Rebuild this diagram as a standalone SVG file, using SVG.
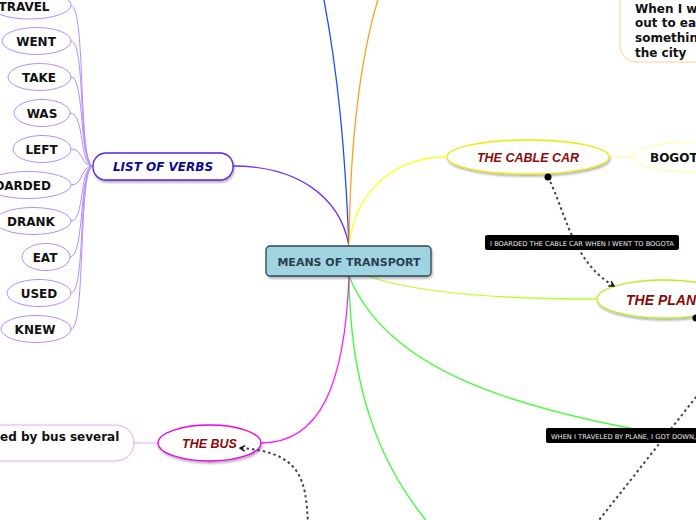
<svg xmlns="http://www.w3.org/2000/svg" width="696" height="520" viewBox="0 0 696 520">
<style>
.verb{fill:#fff;stroke:#b58cff;stroke-width:1}
.vt{font-family:"DejaVu Sans",Verdana,sans-serif;font-weight:bold;font-size:12px;fill:#111;text-anchor:middle}
.vc{fill:none;stroke:#b58cff;stroke-width:1}
.main{fill:none;stroke-width:1.3}
.topic{font-family:"Liberation Sans",Arial,sans-serif;font-weight:bold;font-style:italic;fill:#8b0a0a;text-anchor:middle}
.dash{fill:none;stroke:#444;stroke-width:2;stroke-dasharray:2.5 3}
.lbl{fill:#000;}
.lt{font-family:"DejaVu Sans",Verdana,sans-serif;font-size:6.7px;fill:#eee}
.bt{font-family:"DejaVu Sans",Verdana,sans-serif;font-weight:bold;font-size:12px;fill:#111}
</style>
<defs>
<filter id="sh" x="-20%" y="-30%" width="140%" height="170%">
<feDropShadow dx="1" dy="2" stdDeviation="1.2" flood-color="#000" flood-opacity="0.3"/>
</filter>
<marker id="arr" viewBox="0 0 10 10" refX="8" refY="5" markerWidth="7" markerHeight="7" orient="auto" markerUnits="userSpaceOnUse">
<path d="M1,1 L8,5 L1,9" fill="none" stroke="#111" stroke-width="2"/>
</marker>
</defs>
<g id="connectors">
<path class="main" stroke="#1e4dff" d="M349,246 C345,150 338,70 322,-10"/>
<path class="main" stroke="#ffa020" d="M349,246 C350,150 358,60 381,-10"/>
<path class="main" stroke="#7030ff" d="M349,246 C340,195 295,166 233,166"/>
<path class="main" stroke="#ffff20" d="M349,246 C355,190 395,157 447,157"/>
<path class="main" stroke="#b8ff30" d="M368,276 C420,295 520,299 597,299"/>
<path class="main" stroke="#40ff30" d="M349,276 C385,365 500,410 700,440"/>
<path class="main" stroke="#30ff30" d="M349,276 C350,380 375,460 430,525"/>
<path class="main" stroke="#ff20ff" d="M349,276 C345,385 320,443 261,443"/>
<path fill="none" stroke="#ffff90" stroke-width="1" d="M609,157 L633,157"/>
<path fill="none" stroke="#f0a0f0" stroke-width="1" d="M134,443 L158,443"/>
<path class="vc" d="M71,6 C86,6 78,166 93,166"/>
<path class="vc" d="M71,41 C86,41 78,166 93,166"/>
<path class="vc" d="M71,77 C85,77 79,166 93,166"/>
<path class="vc" d="M70,113 C85,113 79,166 93,166"/>
<path class="vc" d="M71,149 C84,149 80,166 93,166"/>
<path class="vc" d="M71,185 C84,185 80,166 93,166"/>
<path class="vc" d="M71,221 C85,221 79,166 93,166"/>
<path class="vc" d="M70,257 C85,257 79,166 93,166"/>
<path class="vc" d="M71,293 C86,293 78,166 93,166"/>
<path class="vc" d="M71,329 C86,329 78,166 93,166"/>
</g>
<g id="center">
<rect x="266" y="246" width="165" height="30" rx="4" fill="#a0d4e0" stroke="#2e4658" stroke-width="1.3" filter="url(#sh)"/>
<text x="349" y="266" font-family="DejaVu Sans,Verdana,sans-serif" font-weight="bold" font-size="11px" fill="#2c3e50" text-anchor="middle">MEANS OF TRANSPORT</text>
</g>
<g id="list-of-verbs">
<rect x="93" y="153" width="140" height="27" rx="13" fill="#fff" stroke="#5a1ee6" stroke-width="1.3" filter="url(#sh)"/>
<text x="163" y="171" font-family="DejaVu Sans,Verdana,sans-serif" font-weight="bold" font-style="italic" font-size="12px" fill="#0c0c8c" text-anchor="middle">LIST OF VERBS</text>
</g>
<g id="v-travel"><ellipse class="verb" cx="30" cy="5" rx="41" ry="14"/><text class="vt" x="24" y="11">TRAVEL</text></g>
<g id="v-went"><ellipse class="verb" cx="36.5" cy="41" rx="34.5" ry="13.5"/><text class="vt" x="36" y="46">WENT</text></g>
<g id="v-take"><ellipse class="verb" cx="39.5" cy="77" rx="31.5" ry="13.5"/><text class="vt" x="39" y="82">TAKE</text></g>
<g id="v-was"><ellipse class="verb" cx="42" cy="113" rx="28" ry="13.5"/><text class="vt" x="42" y="118">WAS</text></g>
<g id="v-left"><ellipse class="verb" cx="42" cy="149" rx="29" ry="13.5"/><text class="vt" x="41.5" y="154">LEFT</text></g>
<g id="v-boarded"><ellipse class="verb" cx="28" cy="185" rx="43" ry="13.5"/><text class="vt" x="18" y="190">BOARDED</text></g>
<g id="v-drank"><ellipse class="verb" cx="33" cy="221" rx="38" ry="13.5"/><text class="vt" x="31" y="226">DRANK</text></g>
<g id="v-eat"><ellipse class="verb" cx="46" cy="257" rx="24" ry="13.5"/><text class="vt" x="45" y="262">EAT</text></g>
<g id="v-used"><ellipse class="verb" cx="39" cy="293" rx="32" ry="13.5"/><text class="vt" x="39" y="298">USED</text></g>
<g id="v-knew"><ellipse class="verb" cx="36" cy="329" rx="35" ry="13.5"/><text class="vt" x="35" y="334">KNEW</text></g>
<g id="top-note">
<rect x="620" y="-30" width="110" height="92" rx="16" fill="#fff" stroke="#ffd090" stroke-width="1"/>
<text class="bt" x="635" y="13">When I w</text>
<text class="bt" x="635" y="27">out to ea</text>
<text class="bt" x="635" y="42">somethin</text>
<text class="bt" x="635" y="57">the city</text>
</g>
<g id="cable-car">
<ellipse cx="528" cy="157" rx="81" ry="17" fill="#fff" stroke="#f0e800" stroke-width="1.3" filter="url(#sh)"/>
<text class="topic" x="528" y="162" font-size="12.5px">THE CABLE CAR</text>
</g>
<g id="bogota">
<ellipse cx="690" cy="157" rx="57" ry="15" fill="#fff" stroke="#ffff90" stroke-width="1"/>
<text class="bt" x="650" y="162">BOGOTA</text>
</g>
<g id="plane">
<ellipse cx="664" cy="299" rx="67" ry="19" fill="#fff" stroke="#b8f020" stroke-width="1.3" filter="url(#sh)"/>
<text class="topic" x="626" y="305" font-size="14px" style="text-anchor:start">THE PLANE</text>
</g>
<g id="bus">
<ellipse cx="209.5" cy="443" rx="51.5" ry="18" fill="#fff" stroke="#ee00ee" stroke-width="1.3" filter="url(#sh)"/>
<text class="topic" x="209.5" y="448" font-size="12.5px">THE BUS</text>
</g>
<g id="bus-note">
<rect x="-40" y="425" width="174" height="36" rx="18" fill="#fff" stroke="#f0a0f0" stroke-width="1"/>
<text class="bt" x="0" y="441">ed by bus several</text>
</g>
<g id="relations">
<path class="dash" d="M548,177 C565,210 572,262 614,286" marker-end="url(#arr)"/>
<circle cx="548" cy="177" r="3.5" fill="#000"/>
<path class="dash" d="M696,318 C730,340 720,372 700,392 L596,524"/>
<circle cx="696" cy="318" r="3.5" fill="#000"/>
<path class="dash" d="M308,525 C306,480 302,452 240,448" marker-end="url(#arr)"/>
</g>
<g id="label-cable">
<rect class="lbl" x="485" y="235" width="194" height="15" rx="2"/>
<text class="lt" x="582" y="245.5" text-anchor="middle">I BOARDED THE CABLE CAR WHEN I WENT TO BOGOTA</text>
</g>
<g id="label-plane">
<rect class="lbl" x="546" y="428" width="170" height="15" rx="2"/>
<text class="lt" x="551" y="438.5">WHEN I TRAVELED BY PLANE, I GOT DOWN,</text>
</g>
</svg>
